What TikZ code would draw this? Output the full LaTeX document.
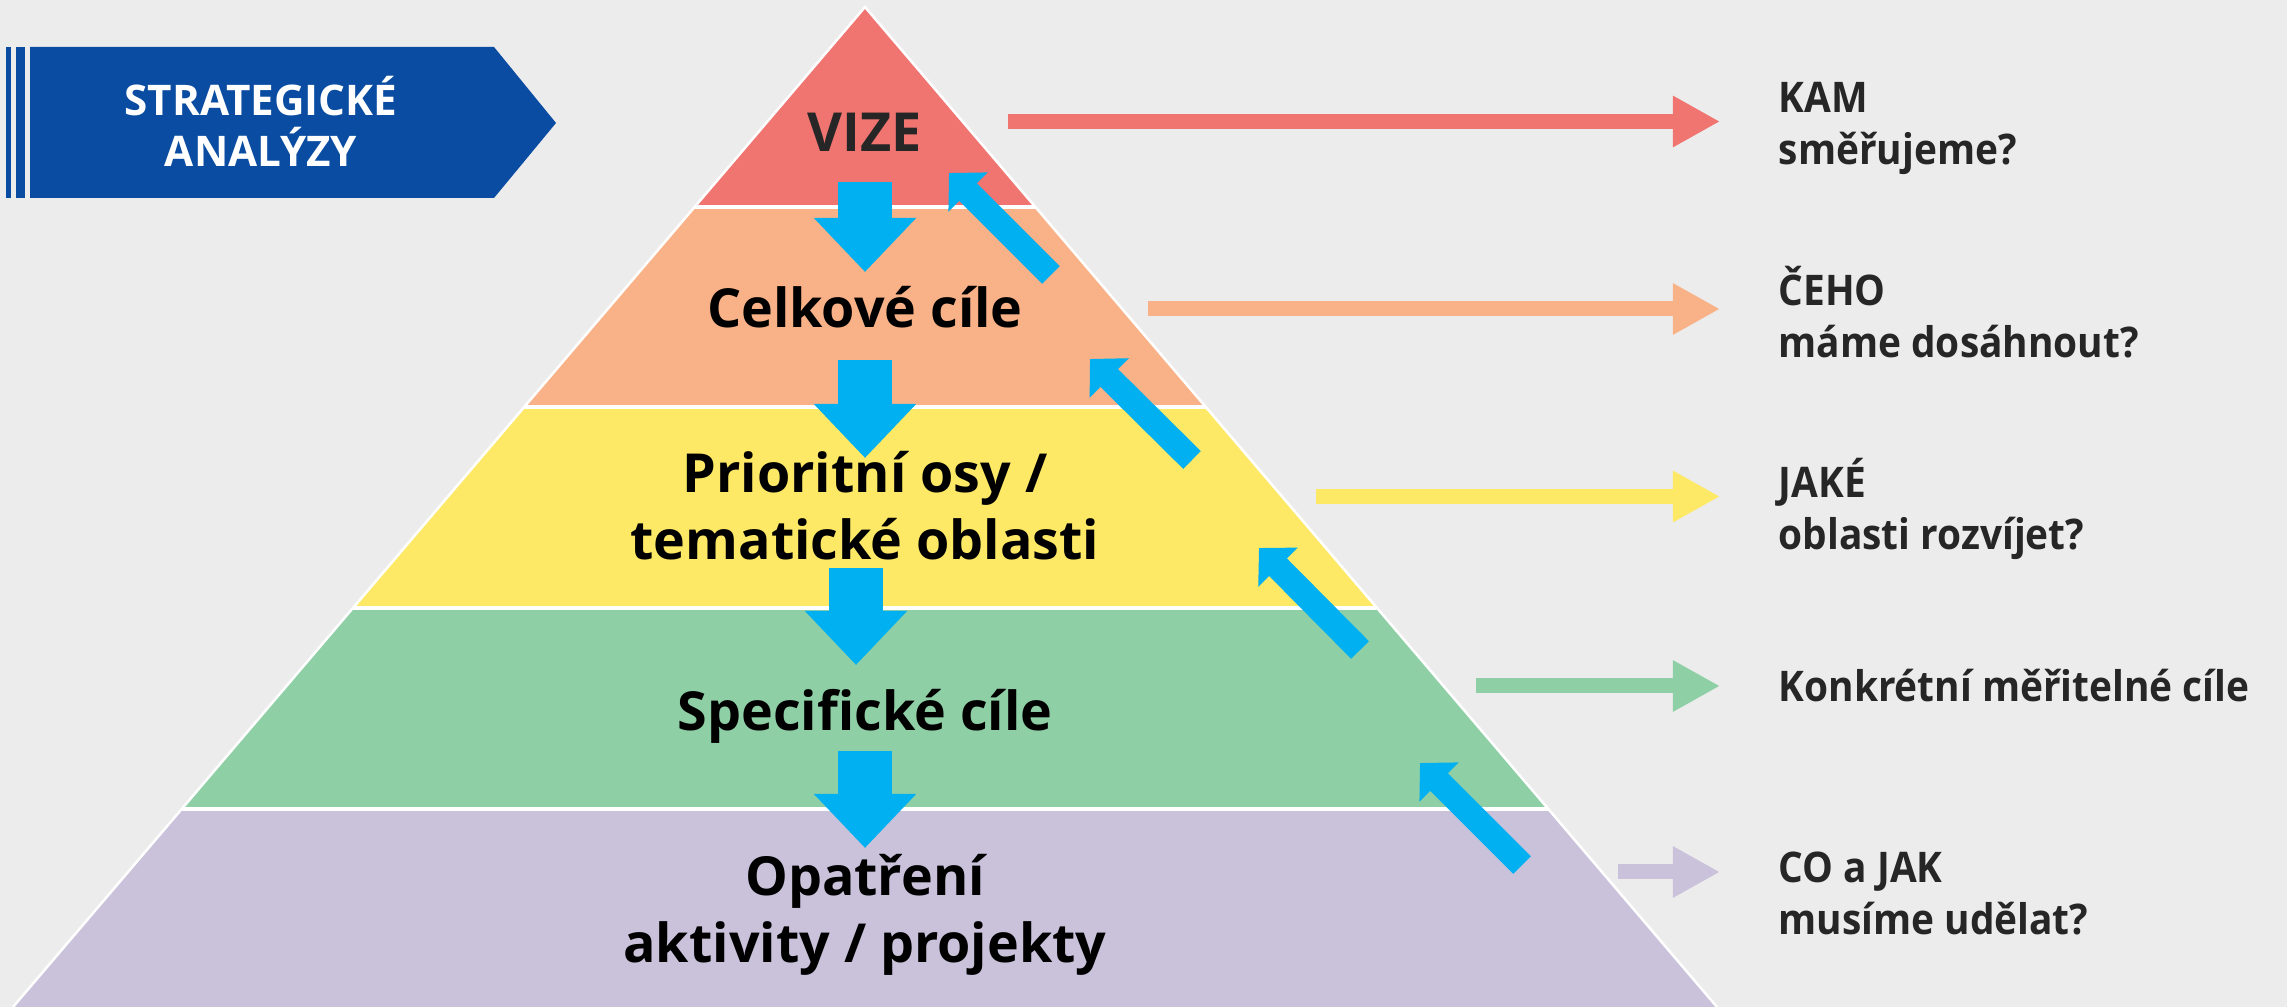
\documentclass[tikz,border=0pt]{standalone}
\usepackage{fontspec}
\setmainfont{Open Sans}
\newfontfamily\narrowsans{Open Sans}[FakeStretch=0.92]
\usetikzlibrary{calc,arrows.meta,positioning}

\definecolor{paper}{HTML}{ECECEC}
\definecolor{vizecol}{HTML}{F07470}
\definecolor{celkovecol}{HTML}{F9B288}
\definecolor{osycol}{HTML}{FDE966}
\definecolor{specifickecol}{HTML}{8ECFA6}
\definecolor{opatrenicol}{HTML}{CAC1DA}
\definecolor{flow}{HTML}{00B0F0}
\definecolor{banner}{HTML}{0A4CA1}
\definecolor{ink}{HTML}{262626}

\begin{document}
\begin{tikzpicture}[x=0.01cm,y=-0.01cm]
\tikzstyle{level} = [font=\bfseries\fontsize{15.3}{19}\selectfont, align=center, inner sep=0]
\tikzstyle{question} = [font=\narrowsans\bfseries\fontsize{12}{14.8}\selectfont, text=ink, align=left, anchor=base west, inner sep=0]
\tikzstyle{down} = [flow, line width=0.54cm, -{Triangle[width=0.99cm,length=0.54cm]}]
\tikzstyle{up} = [flow, line width=0.25cm, -{Triangle[width=0.54cm,length=0.27cm]}]
\tikzstyle{side} = [line width=0.15cm, -{Triangle[width=0.48cm,length=0.47cm]}]
    \fill[paper] (0,0) rectangle (2287,1007);
    \useasboundingbox (0,0) rectangle (2287,1007);

    \coordinate (Top) at (865,7);
    \coordinate (BaseLeft) at (13,1007);
    \coordinate (BaseRight) at (1717,1007);
    \begin{scope}
        \clip (Top) -- (BaseLeft) -- (BaseRight) -- cycle;
        \fill[vizecol] (0,0) rectangle (2287,207);
        \fill[celkovecol] (0,207) rectangle (2287,407);
        \fill[osycol] (0,407) rectangle (2287,608);
        \fill[specifickecol] (0,608) rectangle (2287,809);
        \fill[opatrenicol] (0,809) rectangle (2287,1007);
        \foreach \y in {207,407,608,809}
            \draw[white, line width=0.035cm] (0,\y) -- (2287,\y);
    \end{scope}
    \draw[white, line width=0.025cm] (BaseLeft) -- (Top) -- (BaseRight);

    \fill[banner] (30,47) -- (494,47) -- (556,123) -- (494,198) -- (30,198) -- cycle;
    \fill[banner] (6,47) rectangle (11,198);
    \fill[banner] (16,47) rectangle (25,198);
    \node[font=\bfseries\fontsize{12}{14.5}\selectfont, text=white, align=center, inner sep=0] (Analyzy) at (261,121) {STRATEGICKÉ\\ANALÝZY};

    \node[level, text=ink] (Vize) at (865,132) {VIZE};
    \node[level] (Celkove) at (865,307) {Celkové cíle};
    \node[level] (Osy) at (865,506) {Prioritní osy /\\tematické oblasti};
    \node[level] (Specificke) at (865,716) {Specifické cíle};
    \node[level] (Opatreni) at (865,915) {Opatření\\aktivity / projekty};

    \node[question] (Kam) at (1778,165) {KAM\\směřujeme?};
    \node[question] (Ceho) at (1778,358) {ČEHO\\máme dosáhnout?};
    \node[question] (Jake) at (1778,550) {JAKÉ\\oblasti rozvíjet?};
    \node[question] (Konkretni) at (1778,702) {Konkrétní měřitelné cíle};
    \node[question] (CoJak) at (1778,935) {CO a JAK\\musíme udělat?};

    \coordinate (DownA) at (865,182);
    \coordinate (DownB) at (865,272);
    \coordinate (DownC) at (865,360);
    \coordinate (DownD) at (865,458);
    \coordinate (DownE) at (856,568);
    \coordinate (DownF) at (856,665);
    \coordinate (DownG) at (865,751);
    \coordinate (DownH) at (865,848);
    \coordinate (UpA) at (1051,275);
    \coordinate (UpB) at (949,173);
    \coordinate (UpC) at (1192,460);
    \coordinate (UpD) at (1090,359);
    \coordinate (UpE) at (1360,650);
    \coordinate (UpF) at (1259,548);
    \coordinate (UpG) at (1522,865);
    \coordinate (UpH) at (1420,763);
    \coordinate (SideA) at (1008,121.5);
    \coordinate (SideB) at (1720,121.5);
    \coordinate (SideC) at (1148,309);
    \coordinate (SideD) at (1720,309);
    \coordinate (SideE) at (1316,496.5);
    \coordinate (SideF) at (1720,496.5);
    \coordinate (SideG) at (1476,686);
    \coordinate (SideH) at (1720,686);
    \coordinate (SideI) at (1618,872);
    \coordinate (SideJ) at (1720,872);

    \draw[down] (DownA) -- (DownB);
    \draw[down] (DownC) -- (DownD);
    \draw[down] (DownE) -- (DownF);
    \draw[down] (DownG) -- (DownH);
    \draw[up] (UpA) -- (UpB);
    \draw[up] (UpC) -- (UpD);
    \draw[up] (UpE) -- (UpF);
    \draw[up] (UpG) -- (UpH);
    \draw[side, vizecol] (SideA) -- (SideB);
    \draw[side, celkovecol] (SideC) -- (SideD);
    \draw[side, osycol] (SideE) -- (SideF);
    \draw[side, specifickecol] (SideG) -- (SideH);
    \draw[side, opatrenicol] (SideI) -- (SideJ);
\end{tikzpicture}
\end{document}
